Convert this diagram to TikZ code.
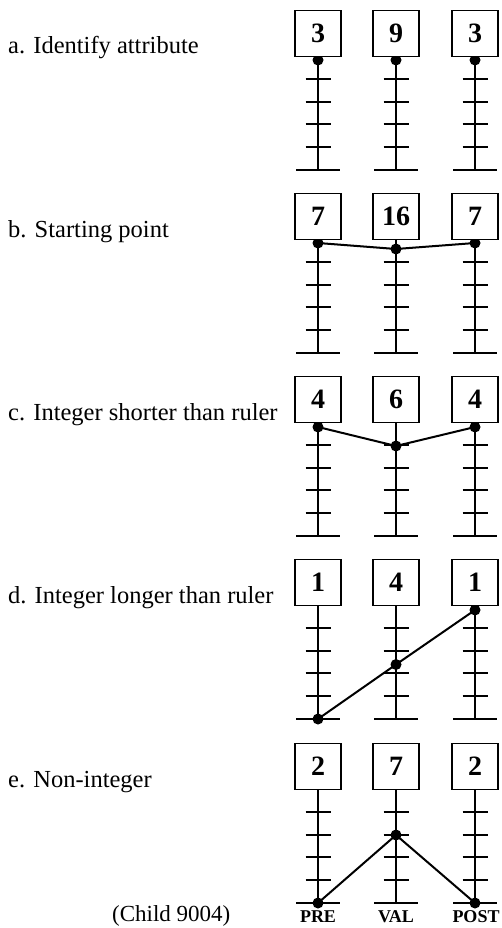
\documentclass[tikz,border=0pt]{standalone}
\usepackage{fontspec}
\setmainfont{Liberation Serif}
\begin{document}
\begin{tikzpicture}[x=1pt,y=-1pt,
  valbox/.style={draw, line width=1.4pt, fill=white, minimum width=46pt, minimum height=46pt,
    inner sep=0pt, anchor=north, font=\fontsize{28}{30}\selectfont\bfseries},
  rulerline/.style={line width=2pt},
  tickline/.style={line width=2pt},
  joinline/.style={line width=2pt},
  steplabel/.style={anchor=base west, inner sep=0pt, font=\fontsize{24.5}{26}\selectfont},
  axislabel/.style={anchor=base, inner sep=0pt, font=\fontsize{18}{20}\selectfont\bfseries}]
\useasboundingbox (0,0) rectangle (501,928);

% one row per step: id / box top / caption / three values / dot offsets below box top / join colour
\foreach \r/\T/\lab/\va/\vb/\vc/\pa/\pb/\pc/\jc in {
    a/10/{a. Identify attribute}/3/9/3/50/50/50/none,
    b/193/{b. Starting point}/7/16/7/50/56/50/black,
    c/376/{c. Integer shorter than ruler}/4/6/4/51/70/51/black,
    d/559/{d. Integer longer than ruler}/1/4/1/160/105.5/51/black,
    e/743/{e. Non-integer}/2/7/2/160/92/160/black}{
  \node[steplabel] (\r lab) at (8,\T+44) {\lab};
  % the three rulers: PRE, VAL, POST
  \foreach \c/\x in {1/318,2/396,3/475}{
    \coordinate (\r top\c) at (\x,\T+46);
    \coordinate (\r bot\c) at (\x,\T+160);
    \draw[rulerline] (\r top\c) -- (\r bot\c);
    \foreach \i in {1,...,4}
      \draw[tickline] (\x-12.5,\T+46+22.8*\i) -- (\x+12.5,\T+46+22.8*\i);
    \draw[tickline] ([xshift=-22pt]\r bot\c) -- ([xshift=22pt]\r bot\c);
  }
  \coordinate (\r dot1) at (318,\T+\pa);
  \coordinate (\r dot2) at (396,\T+\pb);
  \coordinate (\r dot3) at (475,\T+\pc);
  \draw[joinline, draw=\jc] (\r dot1) -- (\r dot2) -- (\r dot3);
  \foreach \c in {1,2,3}
    \fill (\r dot\c) circle[radius=5.5pt];
  \node[valbox] (\r box1) at (318,\T) {\va};
  \node[valbox] (\r box2) at (396,\T) {\vb};
  \node[valbox] (\r box3) at (475,\T) {\vc};
}

\node[axislabel] (pre) at (318,922) {PRE};
\node[axislabel] (val) at (396,922) {VAL};
\node[axislabel] (post) at (476,922) {POST};
\node[anchor=base west, inner sep=0pt, font=\fontsize{23}{25}\selectfont] (child) at (112,921) {(Child 9004)};
\end{tikzpicture}
\end{document}
